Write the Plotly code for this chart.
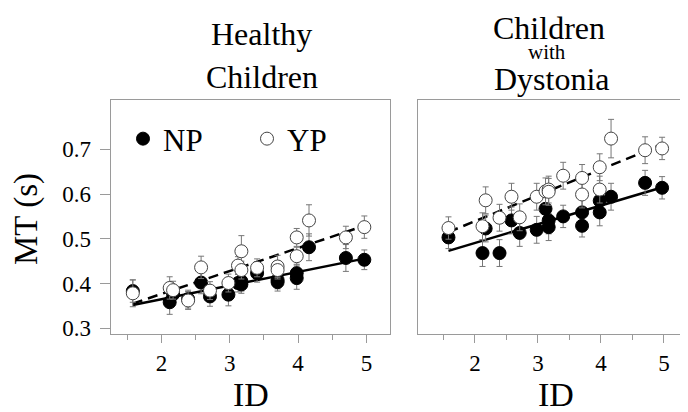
import plotly.graph_objects as go

# ID values of the target conditions (shared by both panels)
ID = [1.58, 2.12, 2.17, 2.39, 2.58, 2.71, 2.98, 3.12, 3.17, 3.17,
      3.40, 3.70, 3.70, 3.98, 3.98, 4.16, 4.70, 4.97]

# Healthy children, movement time (s)
healthy_np = [0.383, 0.358, 0.376, 0.365, 0.402, 0.371, 0.375, 0.401, 0.405, 0.398,
              0.423, 0.408, 0.403, 0.423, 0.412, 0.481, 0.457, 0.453]
healthy_np_err = [0.025, 0.027, 0.020, 0.020, 0.025, 0.022, 0.025, 0.020, 0.022, 0.020,
                  0.020, 0.020, 0.020, 0.020, 0.025, 0.030, 0.030, 0.022]
healthy_yp = [0.378, 0.390, 0.385, 0.362, 0.436, 0.384, 0.401, 0.440, 0.472, 0.430,
              0.435, 0.438, 0.430, 0.503, 0.461, 0.541, 0.503, 0.526]
healthy_yp_err = [0.030, 0.025, 0.020, 0.020, 0.025, 0.020, 0.020, 0.020, 0.035, 0.020,
                  0.020, 0.025, 0.020, 0.020, 0.020, 0.035, 0.025, 0.025]

# Children with dystonia, movement time (s)
dyst_np = [0.503, 0.468, 0.523, 0.468, 0.541, 0.513, 0.520, 0.567, 0.541, 0.526,
           0.550, 0.559, 0.529, 0.585, 0.559, 0.594, 0.625, 0.614]
dyst_np_err = [0.025, 0.030, 0.030, 0.030, 0.030, 0.030, 0.030, 0.030, 0.030, 0.030,
               0.025, 0.030, 0.025, 0.030, 0.030, 0.030, 0.028, 0.025]
dyst_yp = [0.524, 0.528, 0.586, 0.547, 0.594, 0.548, 0.594, 0.606, 0.610, 0.605,
           0.641, 0.636, 0.599, 0.660, 0.610, 0.724, 0.698, 0.702]
dyst_yp_err = [0.025, 0.030, 0.030, 0.030, 0.030, 0.030, 0.030, 0.030, 0.030, 0.030,
               0.030, 0.030, 0.030, 0.030, 0.030, 0.043, 0.030, 0.025]

# regression lines (end points)
fit_x = [1.58, 4.95]
healthy_np_fit = [0.352, 0.455]
healthy_yp_fit = [0.355, 0.528]
dyst_np_fit = [0.473, 0.614]
dyst_yp_fit = [0.515, 0.710]

FONT = "Liberation Serif"
GREY = "#9a9a9a"
W, H = 688, 412

fig = go.Figure()


def add_panel(xa, ya, np_y, np_e, yp_y, yp_e, np_fit, yp_fit, legend):
    fig.add_trace(go.Scatter(x=fit_x, y=np_fit, mode="lines", xaxis=xa, yaxis=ya,
                             line=dict(color="black", width=2.5), showlegend=False))
    fig.add_trace(go.Scatter(x=fit_x, y=yp_fit, mode="lines", xaxis=xa, yaxis=ya,
                             line=dict(color="black", width=2.5, dash="10px,6px"),
                             showlegend=False))
    fig.add_trace(go.Scatter(
        x=ID, y=np_y, mode="markers", name="NP", xaxis=xa, yaxis=ya,
        showlegend=legend,
        marker=dict(color="black", size=13, line=dict(color="black", width=1)),
        error_y=dict(type="data", array=np_e, color="#777", thickness=1, width=3)))
    fig.add_trace(go.Scatter(
        x=ID, y=yp_y, mode="markers", name="YP", xaxis=xa, yaxis=ya,
        showlegend=legend,
        marker=dict(color="white", size=13, line=dict(color="#444", width=1)),
        error_y=dict(type="data", array=yp_e, color="#777", thickness=1, width=3)))


add_panel("x", "y", healthy_np, healthy_np_err, healthy_yp, healthy_yp_err,
          healthy_np_fit, healthy_yp_fit, True)
add_panel("x2", "y2", dyst_np, dyst_np_err, dyst_yp, dyst_yp_err,
          dyst_np_fit, dyst_yp_fit, False)

xcommon = dict(showline=True, linecolor=GREY, linewidth=1, mirror=True,
               ticks="outside", ticklen=8, tickcolor=GREY, tickwidth=1,
               tick0=0, dtick=1, showgrid=False, zeroline=False,
               minor=dict(dtick=0.5, ticks="outside", ticklen=5, tickcolor=GREY),
               tickfont=dict(family=FONT, size=23, color="black"))
ydom = [(H - 326) / H, (H - 91.7) / H]
yrange = [0.287, 0.811]

fig.update_layout(
    width=W, height=H, template="none",
    margin=dict(l=0, r=0, t=0, b=0),
    paper_bgcolor="white", plot_bgcolor="white",
    font=dict(family=FONT, color="black"),
    xaxis=dict(domain=[102.6 / W, 381.6 / W], range=[1.255, 5.34], **xcommon),
    xaxis2=dict(domain=[409.6 / W, 687.5 / W], range=[1.09, 5.5], anchor="y2", **xcommon),
    yaxis=dict(domain=ydom, range=yrange, showline=True, linecolor=GREY, linewidth=1,
               mirror=True, ticks="outside", ticklen=10, tickcolor=GREY,
               tickvals=[0.3, 0.4, 0.5, 0.6, 0.7], ticklabelstandoff=4,
               showgrid=False, zeroline=False,
               tickfont=dict(family=FONT, size=23, color="black")),
    yaxis2=dict(domain=ydom, range=yrange, anchor="x2", showline=True, linecolor=GREY,
                linewidth=1, mirror=True, ticks="", showticklabels=False,
                showgrid=False, zeroline=False),
    legend=dict(orientation="h", x=115 / W, xanchor="left", y=(H - 131) / H,
                yanchor="middle", bgcolor="rgba(0,0,0,0)",
                font=dict(family=FONT, size=31, color="black"),
                entrywidth=79, entrywidthmode="pixels"),
)


def label(text, px, py, size, angle=0, anchor="middle"):
    fig.add_annotation(text=text, x=px / W, y=(H - py) / H, xref="paper", yref="paper",
                       xanchor="center", yanchor=anchor, showarrow=False,
                       textangle=angle, font=dict(family=FONT, size=size, color="black"))


label("Healthy", 253, 26, 32)
label("Children", 254, 69, 32)
label("Children", 541, 0, 32, anchor="top")
label("with", 539, 44, 21)
label("Dystonia", 544, 71, 32)
label("ID", 243, 386, 34)
label("ID", 548, 386, 34)
label("MT (s)", 18, 211, 33, angle=-90)

fig.write_html("out.html")
